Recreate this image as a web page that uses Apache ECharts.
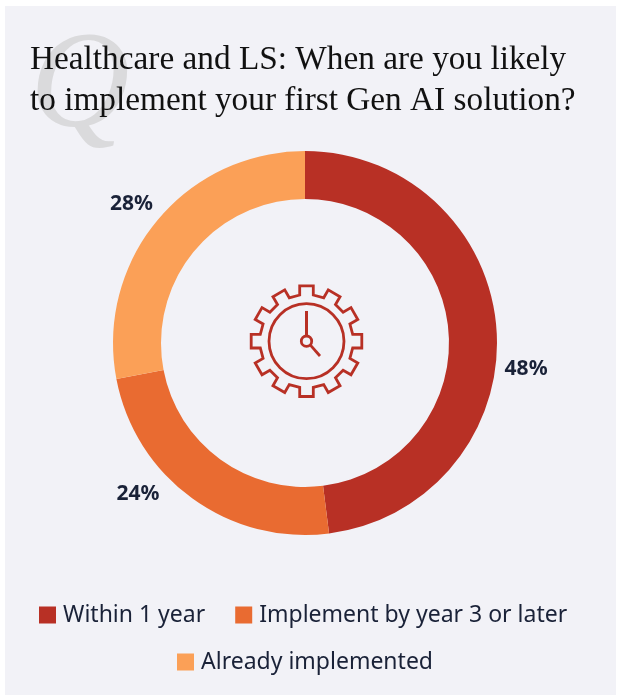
<!DOCTYPE html>
<html><head><meta charset="utf-8">
<style>html,body{margin:0;padding:0;background:#fff}#c{width:617px;height:695px}</style>
<script src="https://cdn.jsdelivr.net/npm/echarts@6/dist/echarts.min.js"></script>
</head><body><div id="c"></div>
<script>
const categories = ['Within 1 year', 'Implement by year 3 or later', 'Already implemented'];
const values = [48, 24, 28];
const colors = ['#B83025', '#E96B31', '#FBA057'];
const labelShift = [[0, 39], [-28, -11], [2, -11]];
const titleLines = ['Healthcare and LS: When are you likely', 'to implement your first Gen AI solution?'];

const chart = echarts.init(document.getElementById('c'), null, {renderer:'canvas'});
const cx = 306.5, cy = 341.2, rr = 46.2, ro = 55.3, hw = 6.8;
const gear = [];
for (let i = 0; i < 12; i++) {
  const a = i * Math.PI / 6, c = Math.cos(a), s = Math.sin(a);
  [[-hw, rr], [-hw, ro], [hw, ro], [hw, rr]].forEach(([x, y]) => gear.push([cx + x * c + y * s, cy + x * s - y * c]));
}
const iconStyle = {stroke:'#B83025', lineWidth:2.8, fill:null};
const legendText = {fontFamily:'Noto Sans', fontSize:23, color:'#1A2238', padding:[0,0,0,2]};
chart.setOption({
  animation:false,
  graphic:[
    {type:'rect', z:-10, shape:{x:5,y:6,width:611,height:689}, style:{fill:'#F2F2F7'}},
    {type:'text', z:-5, left:30, top:21, style:{text:'Q', fill:'#DADADC', font:'italic 138px "Liberation Serif"'}},
    {type:'text', left:30, top:40, style:{text:titleLines.join('\n'), fill:'#111111', font:'33.3px "Liberation Serif"', lineHeight:41}},
    {type:'polygon', shape:{points:gear}, style:iconStyle},
    {type:'circle', shape:{cx,cy,r:37.5}, style:iconStyle},
    {type:'circle', shape:{cx,cy,r:5.2}, style:iconStyle},
    {type:'line', shape:{x1:cx,y1:cy-5,x2:cx,y2:311}, style:{stroke:'#B83025',lineWidth:3}},
    {type:'line', shape:{x1:cx+3.7,y1:cy+3.7,x2:320,y2:356}, style:{stroke:'#B83025',lineWidth:2.8}}
  ],
  legend:[
    {data:categories.slice(0,2), left:34, top:598.5, itemWidth:17, itemHeight:17, itemGap:30, icon:'rect', textStyle:legendText, selectedMode:false},
    {data:categories.slice(2), left:172, top:645.5, itemWidth:17, itemHeight:17, icon:'rect', textStyle:legendText, selectedMode:false}
  ],
  series:[{
    type:'pie', center:[305,343], radius:[144,192], startAngle:90, clockwise:true,
    data:categories.map((n,i)=>({name:n, value:values[i], itemStyle:{color:colors[i]}})),
    label:{show:true, position:'outside', formatter:'{c}%', fontFamily:'Noto Sans', fontWeight:'bold', fontSize:21, color:'#1A2238', distanceToLabelLine:0},
    labelLine:{show:false, length:8, length2:0},
    labelLayout:(p)=>({dx:labelShift[p.dataIndex][0], dy:labelShift[p.dataIndex][1]}),
    emphasis:{disabled:true}
  }]
});
</script></body></html>
